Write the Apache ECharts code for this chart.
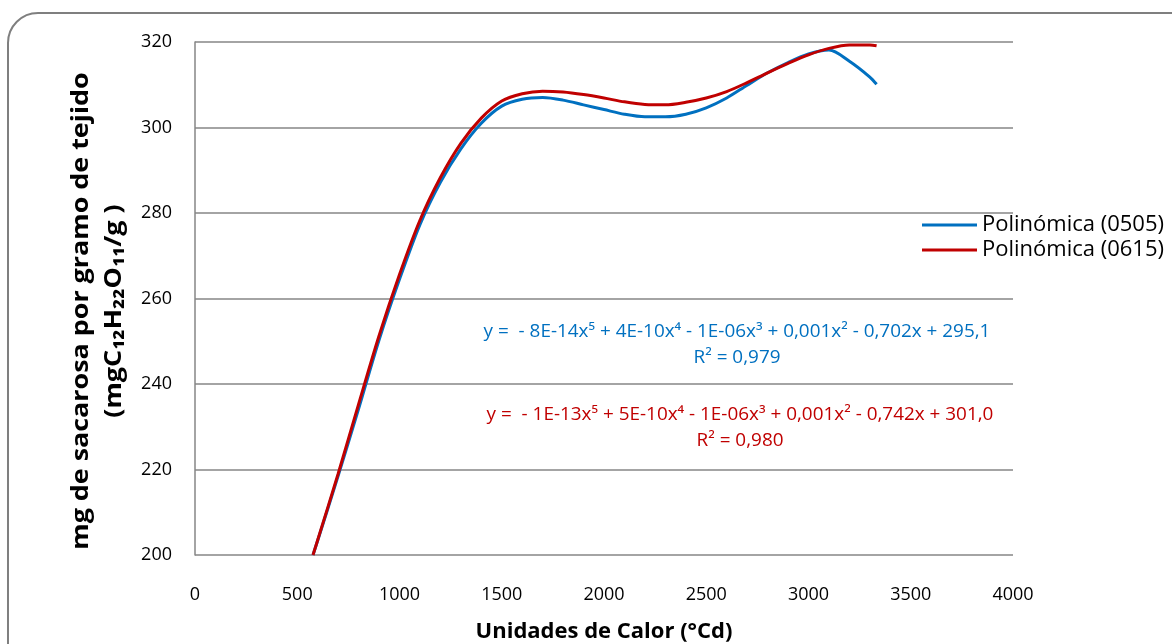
<!DOCTYPE html>
<html>
<head>
<meta charset="utf-8">
<script src="https://cdn.jsdelivr.net/npm/echarts@6/dist/echarts.min.js"></script>
<style>
  html, body { margin: 0; padding: 0; background: #fff; }
  #chart { width: 1172px; height: 644px; }
</style>
</head>
<body>
<div id="chart"></div>
<script>
// datos (x = unidades de calor, y = mg sacarosa)
const xCalor = [577, 600, 700, 800, 900, 1000, 1100, 1200, 1300, 1400, 1500, 1600, 1700, 1800, 1900, 2000, 2100, 2200, 2300, 2400, 2500, 2600, 2700, 2800, 2900, 3000, 3100, 3200, 3300, 3333]
const y0505 = [200, 203.4, 218.5, 234.2, 250.3, 264.5, 277.3, 287.2, 295.0, 301.0, 305.0, 306.6, 307.0, 306.4, 305.3, 304.2, 303.1, 302.5, 302.5, 303.1, 304.6, 306.9, 309.9, 312.8, 315.2, 317.2, 318.1, 315.5, 311.8, 310.1]
const y0615 = [200, 203.5, 219.0, 235.3, 251.3, 265.6, 278.3, 288.3, 296.3, 302.2, 306.2, 307.9, 308.5, 308.3, 307.7, 306.9, 306.0, 305.4, 305.3, 305.9, 306.9, 308.4, 310.5, 312.8, 315.0, 317.0, 318.5, 319.3, 319.3, 319.1]
const xTicks = [0, 500, 1000, 1500, 2000, 2500, 3000, 3500, 4000]
const yTicks = [200, 220, 240, 260, 280, 300, 320]

const eq0505 = ['y =  - 8E-14x⁵ + 4E-10x⁴ - 1E-06x³ + 0,001x² - 0,702x + 295,1', 'R² = 0,979']
const eq0615 = ['y =  - 1E-13x⁵ + 5E-10x⁴ - 1E-06x³ + 0,001x² - 0,742x + 301,0', 'R² = 0,980']

const font = '"Open Sans", Lato, sans-serif'
const myChart = echarts.init(document.getElementById('chart'))

option = {
    animation: false,
    textStyle: { fontFamily: font },
    grid: { left: 195, right: 159, top: 42, bottom: 89, outerBoundsMode: 'none' },
    legend: {
        orient: 'vertical',
        left: 922,
        top: 214,
        padding: 0,
        itemWidth: 55,
        itemHeight: 3,
        itemGap: 3,
        icon: 'rect',
        textStyle: { fontSize: 22, color: '#000', fontFamily: font },
        data: ['Polinómica (0505)', 'Polinómica (0615)']
    },
    xAxis: {
        type: 'value',
        min: xTicks[0],
        max: xTicks[xTicks.length - 1],
        interval: 500,
        name: 'Unidades de Calor (°Cd)',
        nameLocation: 'middle',
        nameGap: 66,
        nameTextStyle: { fontSize: 22, fontWeight: 'bold', color: '#000', fontFamily: font },
        axisLine: { show: false },
        axisTick: { show: false },
        axisLabel: { fontSize: 18, color: '#000', margin: 31, formatter: v => String(v) },
        splitLine: { show: false }
    },
    yAxis: {
        type: 'value',
        min: yTicks[0],
        max: yTicks[yTicks.length - 1],
        interval: 20,
        axisLine: { show: true, lineStyle: { color: '#868686', width: 1.5 } },
        axisTick: { show: false },
        axisLabel: { fontSize: 18, color: '#000', margin: 23 },
        splitLine: { lineStyle: { color: '#868686', width: 1.5 } }
    },
    graphic: [
        {
            type: 'rect',
            shape: { x: 8, y: 13, width: 1250, height: 700, r: 30 },
            style: { fill: 'none', stroke: '#7f7f7f', lineWidth: 2 },
            silent: true,
            z: -1
        },
        {
            type: 'text',
            x: 98,
            y: 311,
            rotation: Math.PI / 2,
            scaleX: 1.12,
            style: {
                text: 'mg de sacarosa por gramo de tejido\n(mgC₁₂H₂₂O₁₁/g )',
                align: 'center',
                verticalAlign: 'middle',
                font: 'bold 24px ' + font,
                lineHeight: 33,
                fill: '#000'
            }
        },
        {
            type: 'text', x: 737, y: 345, scaleX: 1.05,
            style: { text: eq0505.join('\n'), align: 'center', verticalAlign: 'middle', font: '18px ' + font, lineHeight: 26, fill: '#0070C0' }
        },
        {
            type: 'text', x: 740, y: 428, scaleX: 1.05,
            style: { text: eq0615.join('\n'), align: 'center', verticalAlign: 'middle', font: '18px ' + font, lineHeight: 26, fill: '#C00000' }
        }
    ],
    series: [
        {
            name: 'Polinómica (0505)',
            type: 'line',
            data: xCalor.map((x, i) => [x, y0505[i]]),
            smooth: 0.3,
            symbol: 'none',
            lineStyle: { width: 3, color: '#0070C0' },
            itemStyle: { color: '#0070C0' }
        },
        {
            name: 'Polinómica (0615)',
            type: 'line',
            data: xCalor.map((x, i) => [x, y0615[i]]),
            smooth: 0.3,
            symbol: 'none',
            lineStyle: { width: 3, color: '#C00000' },
            itemStyle: { color: '#C00000' }
        }
    ]
}
myChart.setOption(option)
</script>
</body>
</html>
